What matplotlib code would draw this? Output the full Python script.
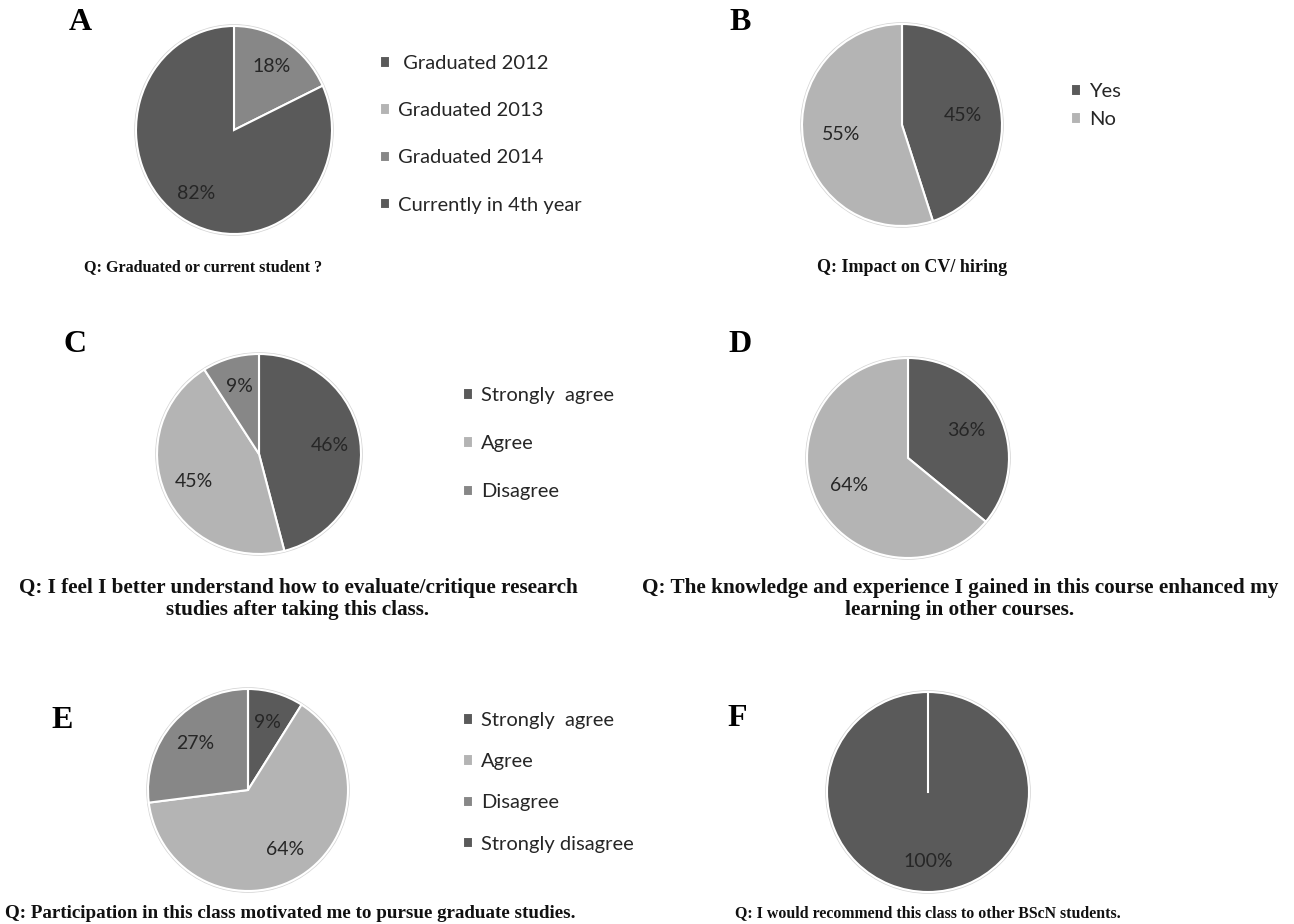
import matplotlib
matplotlib.use("Agg")
import matplotlib.pyplot as plt
from matplotlib.patches import Circle

# survey answers, in percent
a_labels = [" Graduated 2012", "Graduated 2013", "Graduated 2014", "Currently in 4th year"]
a_values = [0, 0, 18, 82]
b_labels = ["Yes", "No"]
b_values = [45, 55]
c_labels = ["Strongly  agree", "Agree", "Disagree"]
c_values = [46, 45, 9]
d_labels = ["Strongly  agree", "Agree"]
d_values = [36, 64]
e_labels = ["Strongly  agree", "Agree", "Disagree", "Strongly disagree"]
e_values = [9, 64, 27, 0]
f_labels = ["Strongly  agree"]
f_values = [100]

DARK = "#5a5a5a"
LIGHT = "#b4b4b4"
MID = "#878787"

W, H = 1294, 924
fig = plt.figure(figsize=(W / 100, H / 100), dpi=100)

LBL = ["Lato", "DejaVu Sans"]
SERIF = ["Liberation Serif", "DejaVu Serif"]


def pie_axes(cx, cy, rx, ry):
    k = 1.06
    ax = fig.add_axes([(cx - rx * k) / W, 1 - (cy + ry * k) / H, 2 * rx * k / W, 2 * ry * k / H])
    ax.axis("off")
    return ax


def draw_pie(ax, values, colors, pctdist=0.65):
    ax.add_patch(Circle((0, 0), 1.018, facecolor="#d6d6d6", edgecolor="none", zorder=0))
    wedges, texts, autotexts = ax.pie(
        values, colors=colors, startangle=90, counterclock=False, radius=1,
        autopct=lambda p: f"{p:.0f}%" if p > 0 else "", pctdistance=pctdist,
        wedgeprops=dict(edgecolor="white", linewidth=1.5),
        textprops=dict(fontsize=14, color="#262626", family=LBL))
    ax.set_xlim(-1.06, 1.06)
    ax.set_ylim(-1.06, 1.06)
    ax.set_aspect("auto")
    return wedges


def add_legend(ax, wedges, labels, x, y, spacing):
    ax.legend(wedges, labels, loc="upper left", bbox_to_anchor=(x / W, 1 - y / H),
              bbox_transform=fig.transFigure, frameon=False, borderpad=0,
              handlelength=0.5, handleheight=0.5, handletextpad=0.4,
              labelspacing=spacing, prop=dict(family=LBL, size=14.5),
              labelcolor="#262626")


def letter(x, y, s):
    fig.text(x / W, 1 - y / H, s, ha="center", va="center", fontsize=23,
             fontweight="bold", family=SERIF)


def caption(x, y, s, size):
    fig.text(x / W, 1 - y / H, s, ha="center", va="center", fontsize=size,
             fontweight="bold", family=SERIF, linespacing=1.2, color="#111111")


# A
ax = pie_axes(234, 130, 98, 104)
w = draw_pie(ax, a_values, [DARK, LIGHT, MID, DARK], 0.72)
add_legend(ax, w, a_labels, 370, 45, 1.5)
letter(80, 22, "A")
caption(203, 267, "Q: Graduated or current student ?", 11.6)

# B
ax = pie_axes(902, 125, 100, 101)
w = draw_pie(ax, b_values, [DARK, LIGHT], 0.62)
add_legend(ax, w, b_labels, 1061, 73, 0.55)
letter(740, 22, "B")
caption(912, 267, "Q: Impact on CV/ hiring", 13)

# C
ax = pie_axes(259, 454, 102, 100)
w = draw_pie(ax, c_values, [DARK, LIGHT, MID], 0.7)
add_legend(ax, w, c_labels, 453, 377, 1.55)
letter(75, 345, "C")
caption(298, 599, "Q: I feel I better understand how to evaluate/critique research\nstudies after taking this class.", 15.2)

# D
ax = pie_axes(908, 458, 101, 100)
w = draw_pie(ax, d_values, [DARK, LIGHT], 0.64)
letter(740, 345, "D")
caption(960, 599, "Q: The knowledge and experience I gained in this course enhanced my\nlearning in other courses.", 15.3)

# E
ax = pie_axes(248, 790, 100, 101)
w = draw_pie(ax, e_values, [DARK, LIGHT, MID, DARK], 0.7)
add_legend(ax, w, e_labels, 453, 702, 1.2)
letter(62, 721, "E")
caption(290, 913, "Q: Participation in this class motivated me to pursue graduate studies.", 13.7)

# F
ax = pie_axes(928, 792, 101, 100)
w = draw_pie(ax, f_values, [DARK], 0.7)
ax.plot([0, 0], [0, 1], color="white", lw=1.5)
letter(737, 718, "F")
caption(928, 913, "Q: I would recommend this class to other BScN students.", 11.4)

fig.savefig("out.png", dpi=100, facecolor="white")
